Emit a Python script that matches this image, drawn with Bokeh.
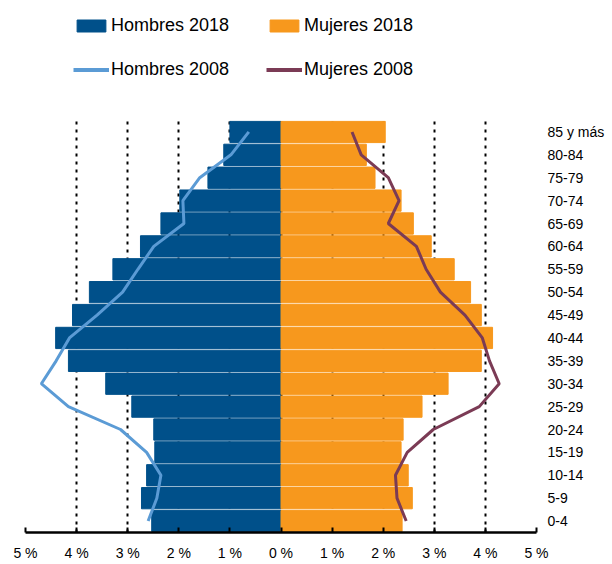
from bokeh.plotting import figure
from bokeh.layouts import column
from bokeh.models import FactorRange, Range1d, FixedTicker, Legend, LegendItem, ColumnDataSource
from bokeh.embed import file_html
from bokeh.resources import INLINE

# Data (bottom to top)
categories = ["0-4", "5-9", "10-14", "15-19", "20-24", "25-29", "30-34", "35-39", "40-44",
              "45-49", "50-54", "55-59", "60-64", "65-69", "70-74", "75-79", "80-84", "85 y más"]
hombres_2018 = [2.53, 2.73, 2.63, 2.47, 2.49, 2.92, 3.43, 4.16, 4.41, 4.08, 3.75, 3.29, 2.75, 2.35, 1.98, 1.43, 1.12, 1.00]
mujeres_2018 = [2.37, 2.57, 2.49, 2.35, 2.39, 2.76, 3.27, 3.92, 4.14, 3.92, 3.71, 3.39, 2.94, 2.59, 2.35, 1.84, 1.67, 2.04]
hombres_2008 = [2.60, 2.43, 2.35, 2.63, 3.14, 4.16, 4.69, 4.40, 4.14, 3.60, 3.10, 2.80, 2.49, 1.90, 1.92, 1.59, 0.98, 0.63]
mujeres_2008 = [2.45, 2.27, 2.24, 2.47, 2.98, 3.88, 4.27, 4.08, 3.94, 3.60, 3.12, 2.84, 2.65, 2.10, 2.31, 2.10, 1.57, 1.39]
series_names = ["Hombres 2018", "Mujeres 2018", "Hombres 2008", "Mujeres 2008"]
tick_values = [-5, -4, -3, -2, -1, 0, 1, 2, 3, 4, 5]
tick_labels = ["5 %", "4 %", "3 %", "2 %", "1 %", "0 %", "1 %", "2 %", "3 %", "4 %", "5 %"]

BLUE = "#00508A"
ORANGE = "#F7981D"
LIGHT_BLUE = "#5B9BD5"
MAROON = "#7B3B55"
FONT = "Liberation Sans"

src = ColumnDataSource(dict(
    cat=categories,
    h18=[-v for v in hombres_2018],
    m18=mujeres_2018,
    h08=[-v for v in hombres_2008],
    m08=mujeres_2008,
))


def draw_series(fig, bar_h, line_w, visible=True):
    r1 = fig.hbar(y="cat", left="h18", right=0, height=bar_h, color=BLUE, source=src, visible=visible)
    r2 = fig.hbar(y="cat", left=0, right="m18", height=bar_h, color=ORANGE, source=src, visible=visible)
    r3 = fig.line(x="h08", y="cat", line_color=LIGHT_BLUE, line_width=line_w, source=src, visible=visible)
    r4 = fig.line(x="m08", y="cat", line_color=MAROON, line_width=line_w, source=src, visible=visible)
    return [r1, r2, r3, r4]


# ---- main chart ----
p = figure(width=612, height=444, output_backend="svg", toolbar_location=None,
           y_range=FactorRange(*categories, range_padding=0),
           x_range=Range1d(-5, 5), y_axis_location="right",
           min_border_left=25, min_border_right=76, min_border_top=0, min_border_bottom=32)
p.outline_line_color = None
p.background_fill_color = "white"
draw_series(p, 0.93, 3)

p.xaxis.ticker = FixedTicker(ticks=tick_values)
p.xaxis.major_label_overrides = {v: l for v, l in zip(tick_values, tick_labels)}
p.xaxis.axis_line_color = "black"
p.xaxis.axis_line_width = 2.5
p.xaxis.major_tick_in = 5
p.xaxis.major_tick_out = 0
p.xaxis.major_tick_line_width = 2
p.xaxis.major_tick_line_color = "black"
p.xaxis.minor_tick_line_color = None
p.xaxis.major_label_text_font = FONT
p.xaxis.major_label_text_font_size = "14px"
p.xaxis.major_label_text_color = "black"
p.xaxis.major_label_standoff = 12

p.yaxis.axis_line_color = None
p.yaxis.major_tick_line_color = None
p.yaxis.major_tick_out = 0
p.yaxis.major_tick_in = 0
p.yaxis.minor_tick_line_color = None
p.yaxis.major_label_text_font = FONT
p.yaxis.major_label_text_font_size = "14px"
p.yaxis.major_label_text_color = "black"
p.yaxis.major_label_standoff = 11

p.xgrid.ticker = FixedTicker(ticks=tick_values)
p.xgrid.grid_line_color = "black"
p.xgrid.grid_line_width = 2
p.xgrid.grid_line_dash = "3 5"
p.ygrid.grid_line_color = None

# ---- legend strip (same series, hidden renderers used only for the legend) ----
lg = figure(width=612, height=120, output_backend="svg", toolbar_location=None,
            x_range=Range1d(-5, 5), y_range=FactorRange(*categories),
            x_axis_type=None, y_axis_type=None,
            min_border_left=0, min_border_right=0, min_border_top=0, min_border_bottom=0)
lg.outline_line_color = None
lg.xgrid.grid_line_color = None
lg.ygrid.grid_line_color = None
proxies = draw_series(lg, 1, 4, visible=False)

legend = Legend(items=[LegendItem(label=n, renderers=[r]) for n, r in zip(series_names, proxies)],
                orientation="horizontal", ncols=2, location=(48, 40))
legend.label_text_font = FONT
legend.label_text_font_size = "18px"
legend.label_text_color = "black"
legend.glyph_width = 36
legend.glyph_height = 15
legend.label_height = 21
legend.label_width = 132
legend.label_standoff = 2
legend.spacing = 23
legend.padding = 0
legend.margin = 0
legend.border_line_color = None
legend.background_fill_alpha = 0
legend.inactive_fill_alpha = 0
lg.add_layout(legend)

layout = column(lg, p, spacing=0)
open("out.html", "w").write(file_html(layout, INLINE))
